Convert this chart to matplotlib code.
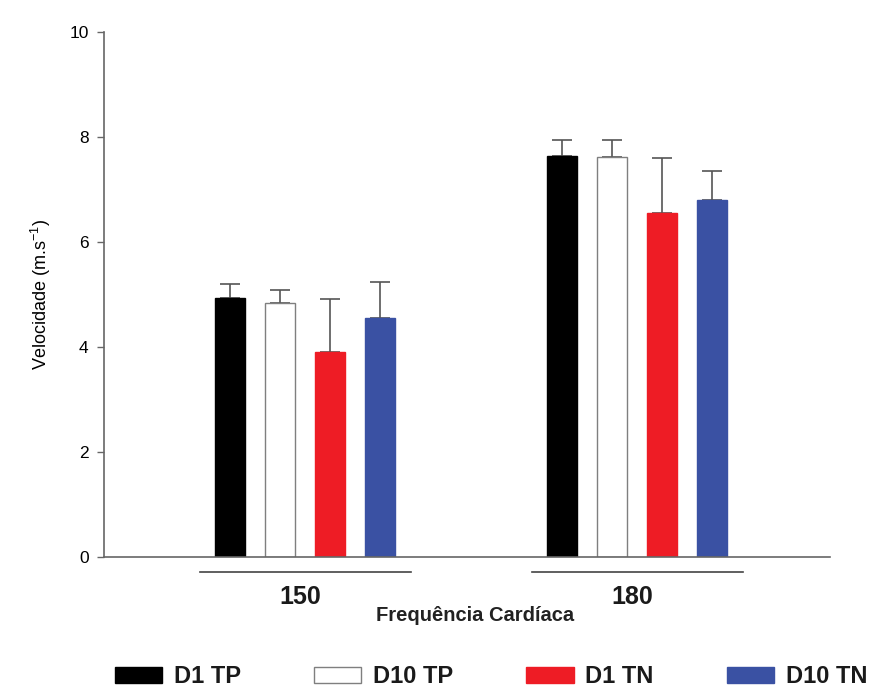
import numpy as np
import matplotlib.pyplot as plt
from matplotlib.patches import Patch
from matplotlib.transforms import blended_transform_factory

# velocity at two heart-rate targets, four test conditions
groups = ['150', '180']
series = ['D1 TP', 'D10 TP', 'D1 TN', 'D10 TN']
means = {
    'D1 TP': [4.93, 7.64],
    'D10 TP': [4.84, 7.62],
    'D1 TN': [3.90, 6.55],
    'D10 TN': [4.55, 6.80],
}
sds = {
    'D1 TP': [0.27, 0.30],
    'D10 TP': [0.24, 0.32],
    'D1 TN': [1.01, 1.05],
    'D10 TN': [0.69, 0.55],
}
colors = ['#000000', '#ffffff', '#ee1c25', '#3a51a3']
edges = ['#000000', '#7f7f7f', '#ee1c25', '#3a51a3']

plt.rcParams['font.family'] = ['Liberation Sans', 'DejaVu Sans']

fig = plt.figure(figsize=(8.71, 6.89), dpi=100)
ax = fig.add_axes([0.1194, 0.1916, 0.8336, 0.762])

x = np.arange(len(groups))
step = 0.1506
width = 0.09
for i, name in enumerate(series):
    pos = x + (i - 1.5) * step
    ax.bar(pos, means[name], width, color=colors[i], edgecolor=edges[i], linewidth=1.0, zorder=2)
    ax.errorbar(pos, means[name], yerr=[np.zeros(len(groups)), sds[name]], fmt='none',
                ecolor='#555555', elinewidth=1.2, capsize=7, capthick=1.2, zorder=1)

ax.set_xlim(-0.605, 1.581)
ax.set_ylim(0, 10)
ax.set_yticks([0, 2, 4, 6, 8, 10])
ax.set_xticks([])
ax.tick_params(axis='y', direction='out', length=5, width=1, color='#666666', labelsize=12.5, pad=6)
for side in ('top', 'right'):
    ax.spines[side].set_visible(False)
for side in ('left', 'bottom'):
    ax.spines[side].set_color('#666666')
    ax.spines[side].set_linewidth(1.2)

ax.set_ylabel('Velocidade (m.s$^{\\mathregular{-1}}$)', fontsize=13, labelpad=12)

# group underlines and labels below the axis
trans = blended_transform_factory(ax.transData, ax.transAxes)
for gx, label in zip(x, groups):
    ax.plot([gx - 0.315, gx + 0.32], [-0.028, -0.028], transform=trans, color='#444444',
            linewidth=1.2, clip_on=False)
    ax.text(gx - 0.015, -0.077, label, transform=trans, ha='center', va='center',
            fontsize=18, fontweight='bold', color='#1a1a1a')

fig.text(0.545, 0.107, 'Frequência Cardíaca', ha='center', va='center', fontsize=14.5,
         fontweight='bold', color='#222222')

handles = [Patch(facecolor=colors[i], edgecolor=edges[i], label=series[i]) for i in range(len(series))]
fig.legend(handles=handles, loc='center', bbox_to_anchor=(0.564, 0.018), ncol=4, frameon=False,
           prop={'size': 17, 'weight': 'bold'}, handlelength=2.0, handleheight=0.65,
           columnspacing=3.1, handletextpad=0.5, labelcolor='#1a1a1a')

fig.savefig('out.png', dpi=100)
